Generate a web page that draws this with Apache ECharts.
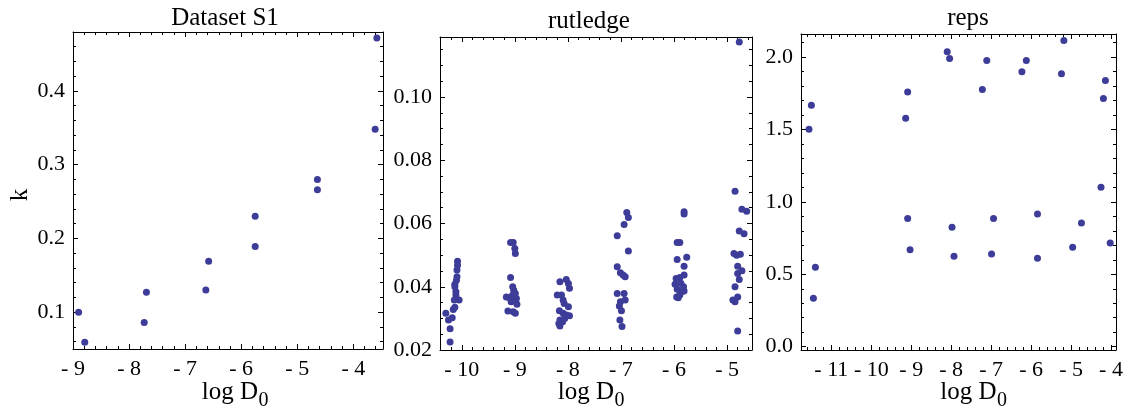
<!DOCTYPE html>
<html>
<head>
<meta charset="utf-8">
<script src="https://cdn.jsdelivr.net/npm/echarts@6/dist/echarts.min.js"></script>
<style>html,body{margin:0;padding:0;background:#fff;}#c{width:1134px;height:415px;}</style>
</head>
<body>
<div id="c"></div>
<script>
// ---- Data ----
const titles = ['Dataset S1', 'rutledge', 'reps'];

const s1X = [-8.90, -8.79, -7.73, -7.69, -6.63, -6.58, -5.75, -5.75, -4.64, -4.64, -3.61, -3.58];
const s1K = [0.100, 0.059, 0.086, 0.127, 0.130, 0.169, 0.189, 0.230, 0.280, 0.266, 0.348, 0.472];

const rutX = [
  -10.30, -10.25, -10.18, -10.22, -10.22, -10.16, -10.13, -10.14, -10.13, -10.13, -10.11, -10.11, -10.09, -10.09, -10.08, -10.08, -10.05, -10.10,
  -9.08, -9.03, -9.00, -8.99, -9.08, -9.16, -9.11, -9.04, -9.02, -9.04, -8.99, -8.97, -8.96, -9.13, -9.03, -8.99, -9.07, -9.02,
  -8.15, -8.03, -7.99, -7.97, -8.20, -8.12, -8.09, -8.07, -7.99, -8.16, -8.09, -8.03, -7.97, -8.15, -8.10, -8.17, -8.15, -8.06,
  -6.89, -6.86, -6.94, -7.07, -6.86, -7.07, -7.01, -6.96, -6.92, -7.07, -6.94, -7.01, -6.92, -7.03, -6.99, -7.02, -6.98,
  -5.81, -5.81, -5.94, -5.89, -5.76, -5.94, -5.81, -5.96, -5.89, -5.81, -5.98, -5.87, -5.82, -5.94, -5.86, -5.81, -5.95, -5.89, -5.92,
  -4.77, -4.85, -4.72, -4.63, -4.77, -4.68, -4.87, -4.82, -4.75, -4.80, -4.80, -4.72, -4.77, -4.85, -4.89, -4.85, -4.80, -4.80
];
const rutK = [
  0.0316, 0.0295, 0.0302, 0.0267, 0.0225, 0.0328, 0.0335, 0.0358, 0.0400, 0.0408, 0.0384, 0.0374, 0.0432, 0.0453, 0.0468, 0.0481, 0.0358, 0.0421,
  0.0540, 0.0540, 0.0521, 0.0505, 0.0429, 0.0368, 0.0366, 0.0374, 0.0389, 0.0400, 0.0379, 0.0363, 0.0345, 0.0323, 0.0321, 0.0316, 0.0353, 0.0358,
  0.0416, 0.0423, 0.0410, 0.0395, 0.0374, 0.0374, 0.0358, 0.0347, 0.0337, 0.0324, 0.0316, 0.0311, 0.0308, 0.0295, 0.0289, 0.0284, 0.0276, 0.0300,
  0.0635, 0.0619, 0.0597, 0.0561, 0.0513, 0.0463, 0.0444, 0.0437, 0.0432, 0.0379, 0.0379, 0.0353, 0.0358, 0.0339, 0.0324, 0.0295, 0.0274,
  0.0637, 0.0630, 0.0540, 0.0540, 0.0493, 0.0486, 0.0465, 0.0426, 0.0429, 0.0437, 0.0408, 0.0411, 0.0400, 0.0392, 0.0384, 0.0387, 0.0368, 0.0374, 0.0365,
  0.1174, 0.0702, 0.0645, 0.0639, 0.0576, 0.0568, 0.0505, 0.0500, 0.0503, 0.0465, 0.0442, 0.0451, 0.0423, 0.0400, 0.0358, 0.0353, 0.0368, 0.0260
];

const repsX = [-11.56, -11.50, -11.45, -11.40, -9.14, -9.09, -9.09, -9.03, -8.10, -8.04, -7.98, -7.93, -7.22, -7.11, -6.94, -6.99,
  -6.23, -6.12, -5.84, -5.84, -5.24, -5.18, -4.96, -4.74, -4.25, -4.19, -4.14, -4.02];
const repsK = [1.502, 1.668, 0.334, 0.548, 1.578, 1.760, 0.885, 0.670, 2.037, 1.991, 0.825, 0.624, 1.776, 1.977, 0.885, 0.641,
  1.899, 1.977, 0.917, 0.611, 1.885, 2.115, 0.687, 0.855, 1.101, 1.714, 1.839, 0.717];

// tick values
const s1XTicks = [-9, -8, -7, -6, -5, -4];
const s1YTicks = [0.1, 0.2, 0.3, 0.4];
const rutXTicks = [-10, -9, -8, -7, -6, -5];
const rutYTicks = [0.02, 0.04, 0.06, 0.08, 0.10];
const repsXTicks = [-11, -10, -9, -8, -7, -6, -5, -4];
const repsYTicks = [0.0, 0.5, 1.0, 1.5, 2.0];

// ---- Layout / style ----
const FONT = 'Liberation Serif';
const DOT = '#3d3d99';
const INK = '#000';

const panels = [
  { grid: { left: 73, top: 32, width: 310, height: 317 }, x: [-9, -3.47], y: [0.05, 0.48],
    xt: s1XTicks, yt: s1YTicks, xm: 0.2, ym: 0.02, yDec: 1, xs: s1X, ys: s1K },
  { grid: { left: 440, top: 37, width: 312, height: 313 }, x: [-10.41, -4.53], y: [0.02, 0.119],
    xt: rutXTicks, yt: rutYTicks, xm: 0.2, ym: 0.005, yDec: 2, xs: rutX, ys: rutK },
  { grid: { left: 801, top: 34, width: 315, height: 316 }, x: [-11.76, -3.875], y: [-0.023, 2.16],
    xt: repsXTicks, yt: repsYTicks, xm: 0.2, ym: 0.1, yDec: 1, xs: repsX, ys: repsK }
];

function steps(min, max, step) {
  const out = [];
  const start = Math.ceil(min / step - 1e-9);
  const end = Math.floor(max / step + 1e-9);
  for (let i = start; i <= end; i++) out.push(+(i * step).toFixed(6));
  return out;
}

const grids = [], xAxes = [], yAxes = [], series = [];
const lineStyle = { color: INK, width: 1 };

panels.forEach((p, gi) => {
  grids.push(Object.assign({ containLabel: false }, p.grid));
  const xMinor = steps(p.x[0], p.x[1], p.xm);
  const yMinor = steps(p.y[0], p.y[1], p.ym);
  const xMain = xAxes.length, yMain = yAxes.length;
  ['bottom', 'top'].forEach(pos => {
    xAxes.push({
      gridIndex: gi, type: 'value', position: pos, min: p.x[0], max: p.x[1],
      axisLine: { show: true, onZero: false, lineStyle },
      axisTick: { show: true, inside: true, length: 5, customValues: p.xt, lineStyle },
      axisLabel: pos === 'bottom' ? {
        show: true, customValues: p.xt, margin: 9, fontSize: 22, fontFamily: FONT, color: INK,
        formatter: v => (v < 0 ? '- ' : '') + Math.abs(v)
      } : { show: false },
      splitLine: { show: false }
    });
    xAxes.push({
      gridIndex: gi, type: 'value', position: pos, min: p.x[0], max: p.x[1],
      axisLine: { show: false, onZero: false },
      axisTick: { show: true, inside: true, length: 3, customValues: xMinor, lineStyle },
      axisLabel: { show: false }, splitLine: { show: false }
    });
  });
  ['left', 'right'].forEach(pos => {
    yAxes.push({
      gridIndex: gi, type: 'value', position: pos, min: p.y[0], max: p.y[1],
      axisLine: { show: true, onZero: false, lineStyle },
      axisTick: { show: true, inside: true, length: 5, customValues: p.yt, lineStyle },
      axisLabel: pos === 'left' ? {
        show: true, customValues: p.yt, margin: 8, fontSize: 22, fontFamily: FONT, color: INK,
        formatter: v => v.toFixed(p.yDec)
      } : { show: false },
      splitLine: { show: false }
    });
    yAxes.push({
      gridIndex: gi, type: 'value', position: pos, min: p.y[0], max: p.y[1],
      axisLine: { show: false, onZero: false },
      axisTick: { show: true, inside: true, length: 3, customValues: yMinor, lineStyle },
      axisLabel: { show: false }, splitLine: { show: false }
    });
  });
  series.push({
    type: 'scatter', xAxisIndex: xMain, yAxisIndex: yMain,
    symbol: 'circle', symbolSize: 7, itemStyle: { color: DOT, opacity: 1 },
    emphasis: { disabled: true },
    data: p.xs.map((x, i) => [x, p.ys[i]]), animation: false
  });
});

// ---- text labels ----
const titlePos = [[225, 18], [589, 21], [968, 18.5]];
const xNameEnd = [258, 614, 996.5];
const graphics = [];
titles.forEach((t, i) => {
  graphics.push({ type: 'text', x: titlePos[i][0], y: titlePos[i][1],
    style: { text: t, font: '25px "' + FONT + '"', fill: INK, align: 'center', verticalAlign: 'middle' } });
  graphics.push({ type: 'text', x: xNameEnd[i], y: 392.5,
    style: { text: 'log D', font: '25px "' + FONT + '"', fill: INK, align: 'right', verticalAlign: 'middle' } });
  graphics.push({ type: 'text', x: xNameEnd[i] + 0.5, y: 401,
    style: { text: '0', font: '20px "' + FONT + '"', fill: INK, align: 'left', verticalAlign: 'middle' } });
});
graphics.push({ type: 'text', x: 20, y: 195, rotation: Math.PI / 2,
  style: { text: 'k', font: '25px "' + FONT + '"', fill: INK, align: 'center', verticalAlign: 'middle' } });

const chart = echarts.init(document.getElementById('c'), null, { renderer: 'canvas' });
chart.setOption({
  animation: false,
  backgroundColor: '#fff',
  grid: grids,
  xAxis: xAxes,
  yAxis: yAxes,
  series: series,
  graphic: graphics
});
</script>
</body>
</html>
